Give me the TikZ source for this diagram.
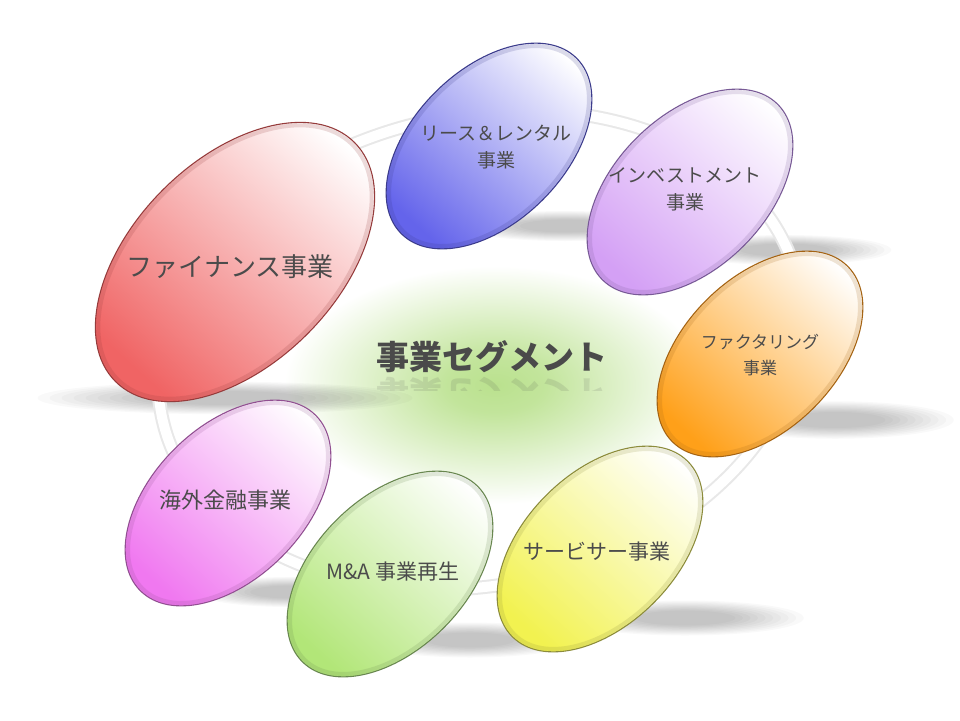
\documentclass[tikz,border=0pt]{standalone}
\usepackage{fontspec}
\setmainfont{Noto Sans CJK JP}
\usetikzlibrary{shapes.geometric,fadings}

\definecolor{cred}{RGB}{240,100,100}
\definecolor{rred}{RGB}{150,60,60}
\definecolor{cblue}{RGB}{100,100,235}
\definecolor{rblue}{RGB}{60,60,140}
\definecolor{cpurple}{RGB}{212,160,245}
\definecolor{rpurple}{RGB}{120,90,150}
\definecolor{corange}{RGB}{255,160,25}
\definecolor{rorange}{RGB}{165,100,20}
\definecolor{cyellow}{RGB}{242,242,80}
\definecolor{ryellow}{RGB}{140,140,60}
\definecolor{cgreen}{RGB}{178,230,120}
\definecolor{rgreen}{RGB}{105,135,80}
\definecolor{cpink}{RGB}{240,120,240}
\definecolor{rpink}{RGB}{145,80,145}
\definecolor{labgray}{RGB}{75,75,75}
\definecolor{ctext}{RGB}{74,74,74}
\definecolor{glowc}{RGB}{186,225,142}

\pgfdeclareradialshading[glowc]{glow}{\pgfpoint{0bp}{0bp}}{color(0bp)=(glowc); color(1bp)=(glowc!88!white); color(4.25bp)=(white); color(50bp)=(white)}

\newcommand{\floorshadow}[3]{%
  \foreach \k in {0,...,9}{%
    \fill[black, opacity=0.022] #1 ellipse [x radius={(1.25-0.08*\k)*#2pt}, y radius={(1.25-0.08*\k)*#3pt}];%
  }%
}

\tikzset{
  seg/.style={ellipse, rotate=45, minimum width=248pt, minimum height=152pt, inner sep=0pt, line width=1.1pt},
  segbig/.style={seg, minimum width=338pt, minimum height=204pt},
  bevel/.style={ellipse, rotate=45, inner sep=0pt, draw opacity=0.18, line width=4pt},
  lab/.style={text=labgray, font=\fontsize{19}{27}\selectfont, align=center},
  labbig/.style={lab, font=\fontsize{26}{30}\selectfont},
  ring/.style={line width=14pt, black!9},
  ringin/.style={line width=10pt, white}
}

\begin{document}
\begin{tikzpicture}[x=1pt,y=-1pt]
\useasboundingbox (0,0) rectangle (960,720);
\fill[white] (0,0) rectangle (960,720);

% central glow (shading box reaches beyond the page so no edge shows)
\begin{scope}
  \clip (0,0) rectangle (960,720);
  \fill[shading=glow] (495-1240,385-700) rectangle (495+1240,385+700);
\end{scope}

% floor shadows
\floorshadow{(225,398)}{150}{13}
\floorshadow{(565,226)}{85}{12}
\floorshadow{(785,250)}{85}{12}
\floorshadow{(835,420)}{95}{15}
\floorshadow{(685,618)}{95}{14}
\floorshadow{(470,640)}{85}{14}
\floorshadow{(290,592)}{75}{12}

% ring
\draw[ring, rotate around={12:(480,350)}] (480,350) ellipse [x radius=325pt, y radius=235pt];
\draw[ringin, rotate around={12:(480,350)}] (480,350) ellipse [x radius=325pt, y radius=235pt];

% segment ellipses
\node[segbig, draw=rred, left color=cred, middle color=cred!45!white, right color=white, shading angle=138] (fin) at (235,262) {};
\node[bevel, draw=rred, minimum width=332pt, minimum height=198pt] (fin-bv) at (fin) {};

\node[seg, draw=rblue, left color=cblue, middle color=cblue!55!white, right color=white, shading angle=138] (lease) at (489,146) {};
\node[bevel, draw=rblue, minimum width=242pt, minimum height=146pt] (lease-bv) at (lease) {};

\node[seg, draw=rpurple, left color=cpurple, middle color=cpurple!60!white, right color=white, shading angle=138] (inv) at (690,192) {};
\node[bevel, draw=rpurple, minimum width=242pt, minimum height=146pt] (inv-bv) at (inv) {};

\node[seg, draw=ryellow, left color=cyellow, middle color=cyellow!50!white, right color=white, shading angle=138] (serv) at (600,549) {};
\node[bevel, draw=ryellow, minimum width=242pt, minimum height=146pt] (serv-bv) at (serv) {};

\node[seg, draw=rorange, left color=corange, middle color=corange!55!white, right color=white, shading angle=138] (fact) at (760,354) {};
\node[bevel, draw=rorange, minimum width=242pt, minimum height=146pt] (fact-bv) at (fact) {};

\node[seg, draw=rgreen, left color=cgreen, middle color=cgreen!50!white, right color=white, shading angle=138] (ma) at (390,574) {};
\node[bevel, draw=rgreen, minimum width=242pt, minimum height=146pt] (ma-bv) at (ma) {};

\node[seg, draw=rpink, left color=cpink, middle color=cpink!50!white, right color=white, shading angle=138] (ovs) at (228,503) {};
\node[bevel, draw=rpink, minimum width=242pt, minimum height=146pt] (ovs-bv) at (ovs) {};

% labels
\node[labbig] (fin-t) at (230,267) {ファイナンス事業};
\node[lab] (lease-t) at (496,147) {リース＆レンタル\\事業};
\node[lab] (inv-t) at (685,189) {インベストメント\\事業};
\node[lab, font=\fontsize{17}{26}\selectfont] (fact-t) at (760,355) {ファクタリング\\事業};
\node[lab, font=\fontsize{21}{26}\selectfont] (serv-t) at (597,552) {サービサー事業};
\node[lab, font=\fontsize{21}{26}\selectfont] (ma-t) at (393,572) {M\&A 事業再生};
\node[lab, font=\fontsize{22}{26}\selectfont] (ovs-t) at (225,500) {海外金融事業};

% centre title
\node[text=ctext, font=\bfseries\fontsize{33}{40}\selectfont] (title) at (492,357) {事業セグメント};
\begin{scope}
  \clip (360,374) rectangle (630,390);
  \node[text=ctext, opacity=0.13, yscale=-1, font=\bfseries\fontsize{33}{40}\selectfont] (title-refl) at (492,393) {事業セグメント};
\end{scope}
\end{tikzpicture}
\end{document}
